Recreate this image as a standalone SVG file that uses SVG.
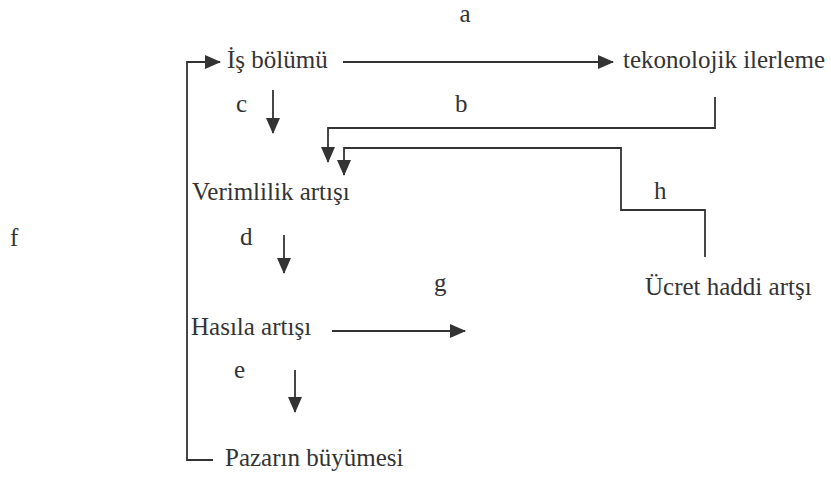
<svg xmlns="http://www.w3.org/2000/svg" width="831" height="477" viewBox="0 0 831 477">
<defs>
<style>
.t{font-size:25px;fill:#333}
.c{fill:none;stroke:#333;stroke-width:1.8}
</style>
<marker id="ah" markerUnits="userSpaceOnUse" markerWidth="16" markerHeight="14" refX="15" refY="7" orient="auto">
<path d="M0,0 L16,7 L0,14 z" fill="#333"/>
</marker>
</defs>
<rect width="831" height="477" fill="#fff"/>
<g font-family="Liberation Serif, DejaVu Serif, serif">
<g id="labels">
<text class="t" x="465" y="22" text-anchor="middle">a</text>
<text class="t" x="455" y="112">b</text>
<text class="t" x="236" y="112">c</text>
<text class="t" x="240" y="245">d</text>
<text class="t" x="234" y="378">e</text>
<text class="t" x="10" y="246">f</text>
<text class="t" x="434" y="291">g</text>
<text class="t" x="654" y="199">h</text>
</g>
<g id="is-bolumu"><text class="t" x="227" y="68">İş bölümü</text></g>
<g id="teknolojik"><text class="t" x="623" y="68">tekonolojik ilerleme</text></g>
<g id="verimlilik"><text class="t" x="192" y="200">Verimlilik artışı</text></g>
<g id="ucret"><text class="t" x="645" y="295">Ücret haddi artşı</text></g>
<g id="hasila"><text class="t" x="191" y="335">Hasıla artışı</text></g>
<g id="pazar"><text class="t" x="225" y="466">Pazarın büyümesi</text></g>
</g>
<g id="connectors">
<path class="c" d="M343,62 L613,62" marker-end="url(#ah)"/>
<path class="c" d="M213,460 L187,460 L187,62 L220,62" marker-end="url(#ah)"/>
<path class="c" d="M273,90 L273,133" marker-end="url(#ah)"/>
<path class="c" d="M715,97 L715,128 L328,128 L328,162" marker-end="url(#ah)"/>
<path class="c" d="M705,257 L705,210 L621,210 L621,148 L344,148 L344,175" marker-end="url(#ah)"/>
<path class="c" d="M284,235 L284,273" marker-end="url(#ah)"/>
<path class="c" d="M332,331 L465,331" marker-end="url(#ah)"/>
<path class="c" d="M295,370 L295,412" marker-end="url(#ah)"/>
</g>
</svg>
